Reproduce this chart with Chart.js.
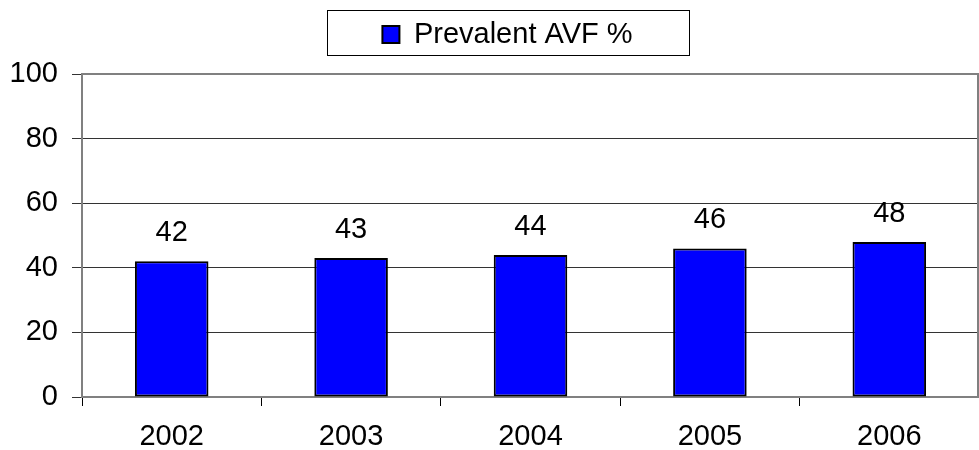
<!DOCTYPE html>
<html>
<head>
<meta charset="utf-8">
<script src="https://cdn.jsdelivr.net/npm/chart.js@4"></script>
<style>
  body { margin: 0; background: #fff; }
</style>
</head>
<body>
<canvas id="chart" width="979" height="450"></canvas>
<script>
// chart data
var years = ['2002', '2003', '2004', '2005', '2006'];
var avfValues = [42, 43, 44, 46, 48];
var seriesName = 'Prevalent AVF %';

var FONT = '"Liberation Sans", Arial, sans-serif';
var FSIZE = 29;
var LEGEND_SHIFT = 18;

// border of plot area, box round legend, fixed legend height
var framePlugin = {
    id: 'frame',
    afterInit: function(chart) {
        var lg = chart.legend;
        var origFit = lg.fit;
        var origDraw = lg.draw;
        lg.fit = function() {
            origFit.call(this);
            this.height = 74;
        };
        lg.draw = function() {
            this.ctx.save();
            this.ctx.translate(LEGEND_SHIFT, 0);
            origDraw.call(this);
            this.ctx.restore();
        };
    },
    beforeDatasetsDraw: function(chart) {
        var a = chart.chartArea;
        var ctx = chart.ctx;
        ctx.save();
        ctx.strokeStyle = '#808080';
        ctx.lineWidth = 2;
        ctx.strokeRect(a.left, a.top, a.right - a.left - 1, a.bottom - a.top);
        ctx.restore();
    },
    afterDraw: function(chart) {
        var lg = chart.legend;
        var ctx = chart.ctx;
        var cx = lg.left + lg.width / 2 + LEGEND_SHIFT;
        var w = 362, h = 45;
        ctx.save();
        ctx.strokeStyle = '#000';
        ctx.lineWidth = 1;
        ctx.strokeRect(Math.round(cx - w / 2) + 0.5, 10.5, w, h);
        ctx.restore();
    }
};

// value labels on top of bars
var valueLabels = {
    id: 'valueLabels',
    afterDatasetsDraw: function(chart) {
        var ctx = chart.ctx;
        var meta = chart.getDatasetMeta(0);
        ctx.save();
        ctx.font = FSIZE + 'px ' + FONT;
        ctx.fillStyle = '#000';
        ctx.textAlign = 'center';
        ctx.textBaseline = 'alphabetic';
        meta.data.forEach(function(bar, i) {
            ctx.fillText(String(avfValues[i]), bar.x, bar.y - 20);
        });
        ctx.restore();
    }
};

var ctx = document.getElementById('chart').getContext('2d');
var myChart = new Chart(ctx, {
    type: 'bar',
    data: {
        labels: years,
        datasets: [{
            label: seriesName,
            data: avfValues,
            backgroundColor: '#0000ff',
            borderColor: '#000',
            borderWidth: 2,
            borderSkipped: false,
            barPercentage: 0.41,
            categoryPercentage: 1
        }]
    },
    options: {
        responsive: false,
        animation: false,
        layout: { padding: 0 },
        plugins: {
            tooltip: { enabled: false },
            legend: {
                position: 'top',
                labels: {
                    font: { size: FSIZE, family: FONT },
                    color: '#000',
                    boxWidth: 17,
                    boxHeight: 17,
                    padding: 20
                }
            }
        },
        scales: {
            x: {
                afterFit: function(scale) { scale.height = 53; },
                grid: {
                    offset: true,
                    drawOnChartArea: false,
                    drawTicks: true,
                    tickLength: 9,
                    color: '#000'
                },
                border: { color: '#808080', width: 2 },
                ticks: {
                    font: { size: FSIZE, family: FONT },
                    color: '#000',
                    padding: 14
                }
            },
            y: {
                min: 0,
                max: 100,
                afterFit: function(scale) { scale.width = 82; },
                ticks: {
                    stepSize: 20,
                    font: { size: FSIZE, family: FONT },
                    color: '#000',
                    padding: 14
                },
                grid: {
                    color: function(c) {
                        return (c.tick && (c.tick.value === 100 || c.tick.value === 0)) ? '#808080' : '#333';
                    },
                    tickLength: 10,
                    tickColor: '#333'
                },
                border: { color: '#808080', width: 2 }
            }
        }
    },
    plugins: [framePlugin, valueLabels]
});
</script>
</body>
</html>
